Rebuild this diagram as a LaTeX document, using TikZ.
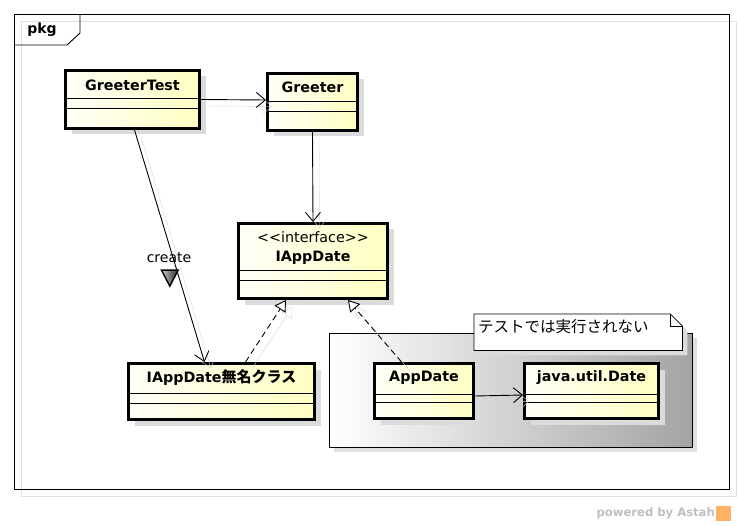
\documentclass[tikz,border=0pt]{standalone}
\usepackage{fontspec}
\setmainfont{DejaVu Sans}
\newfontfamily\jpfont{Noto Sans CJK JP}
\usetikzlibrary{arrows.meta,shadows,shapes.geometric}

\tikzset{
  classbox/.style={draw, line width=3pt, anchor=north west, inner sep=0pt,
    left color=yellow!3, right color=yellow!24,
    drop shadow={shadow xshift=6pt, shadow yshift=-6pt, fill=black!14, opacity=1}},
  classname/.style={font=\bfseries\fontsize{14.3}{16}\selectfont, inner sep=0pt},
  compline/.style={line width=1pt},
  lineshadow/.style={preaction={draw=black!16, solid, transform canvas={shift={(6.5pt,-6.5pt)}}}},
  assoc/.style={lineshadow, line width=0.9pt, -{Straight Barb[length=9pt, width=15pt, line width=0.9pt]}},
  realize/.style={lineshadow, line width=0.9pt, dash pattern=on 6pt off 4pt,
    -{Triangle[open, length=11pt, width=13pt, fill=white, line width=0.9pt]}},
  createmark/.style={isosceles triangle, isosceles triangle apex angle=55, shape border rotate=-90,
    draw, line width=1.4pt, minimum height=16pt, inner sep=0pt, left color=black!20, right color=black!85},
}

\begin{document}
\begin{tikzpicture}[x=1pt, y=-1pt, font=\fontsize{14}{16}\selectfont]
\useasboundingbox (0,0) rectangle (738,526);
% package frame
\draw[black!12, line width=0.9pt] (21,21) rectangle (736,496);
\draw[line width=0.9pt] (14,14) rectangle (729,489);
\draw[line width=0.9pt] (14,45) -- (67,45) -- (80,33) -- (80,14);
\node[font=\bfseries\fontsize{14}{16}\selectfont] (pkg) at (42,30) {pkg};

% group with the note
\node[draw, line width=0.9pt, anchor=north west, minimum width=363pt, minimum height=114pt,
  left color=white, right color=black!36,
  drop shadow={shadow xshift=5pt, shadow yshift=-5pt, fill=black!12, opacity=1}] (grp) at (329,333) {};
\node[anchor=north west, minimum width=208pt, minimum height=36pt] (note) at (474,314) {};
\fill[black!14, transform canvas={shift={(5pt,-5pt)}}] (note.north west) -- ([xshift=-12pt]note.north east)
  -- ([yshift=-12pt]note.north east) -- (note.south east) -- (note.south west) -- cycle;
\draw[fill=white, line width=0.8pt] (note.north west) -- ([xshift=-12pt]note.north east)
  -- ([yshift=-12pt]note.north east) -- (note.south east) -- (note.south west) -- cycle;
\draw[line width=0.8pt] ([xshift=-12pt]note.north east) -- ([xshift=-12pt, yshift=-12pt]note.north east)
  -- ([yshift=-12pt]note.north east);
\node[anchor=west, font=\jpfont\fontsize{15.5}{17}\selectfont, inner sep=0pt] (notetext) at (478,327) {テストでは実行されない};

% classes
\node[classbox, minimum width=134pt, minimum height=58pt] (gtest) at (64,69) {};
\node[classbox, minimum width=90pt, minimum height=57pt] (greeter) at (266,72) {};
\node[classbox, minimum width=149pt, minimum height=75pt] (iapp) at (237,222) {};
\node[classbox, minimum width=186pt, minimum height=56pt] (anon) at (127,362) {};
\node[classbox, minimum width=99pt, minimum height=55pt] (appdate) at (373,362) {};
\node[classbox, minimum width=134pt, minimum height=55pt] (jdate) at (523,362) {};

\node[classname] at ([yshift=-16pt]gtest.north) {GreeterTest};
\node[classname] at ([yshift=-15pt]greeter.north) {Greeter};
\node[classname, align=center, font=\fontsize{14.3}{19}\selectfont] at ([yshift=-26pt]iapp.north)
  {<\kern0pt<interface>\kern0pt>\\ \bfseries IAppDate};
\node[classname] at ([yshift=-16pt]anon.north) {IAppDate{\jpfont\fontsize{15}{16}\selectfont 無名クラス}};
\node[classname] at ([yshift=-16pt]appdate.north) {AppDate};
\node[classname] at ([yshift=-16pt]jdate.north) {java.util.Date};

\foreach \n/\a/\b in {gtest/30/40, greeter/30/40, iapp/49/59, anon/31/41, appdate/32/40, jdate/32/40} {
  \draw[compline] ([yshift=-\a pt]\n.north west) -- ([yshift=-\a pt]\n.north east);
  \draw[compline] ([yshift=-\b pt]\n.north west) -- ([yshift=-\b pt]\n.north east);
}

% connectors
\draw[assoc] (gtest.east) -- ([yshift=2pt]greeter.west);
\draw[assoc] (greeter.south) -- (iapp.north);
\draw[assoc] ([xshift=2pt]gtest.south) -- ([xshift=-17pt]anon.north)
  node[pos=0.55, xshift=-4pt, inner sep=0pt] (createlbl) {create}
  node[pos=0.626, xshift=-8.5pt, createmark] (createtri) {};
\draw[realize] ([xshift=24pt]anon.north) -- ([xshift=-27pt]iapp.south);
\draw[realize] ([xshift=-22.5pt]appdate.north) -- ([xshift=35pt]iapp.south);
\draw[assoc] ([yshift=-5pt]appdate.east) -- ([yshift=-4pt]jdate.west);

% footer
\node[anchor=east, text=black!25, font=\bfseries\fontsize{11.6}{13}\selectfont, inner sep=0pt] (astah) at (715,513) {powered by Astah};
\node[anchor=west, fill=orange!60, minimum size=15pt, inner sep=0pt] (logo) at ([xshift=1pt]astah.east) {};
\end{tikzpicture}
\end{document}
